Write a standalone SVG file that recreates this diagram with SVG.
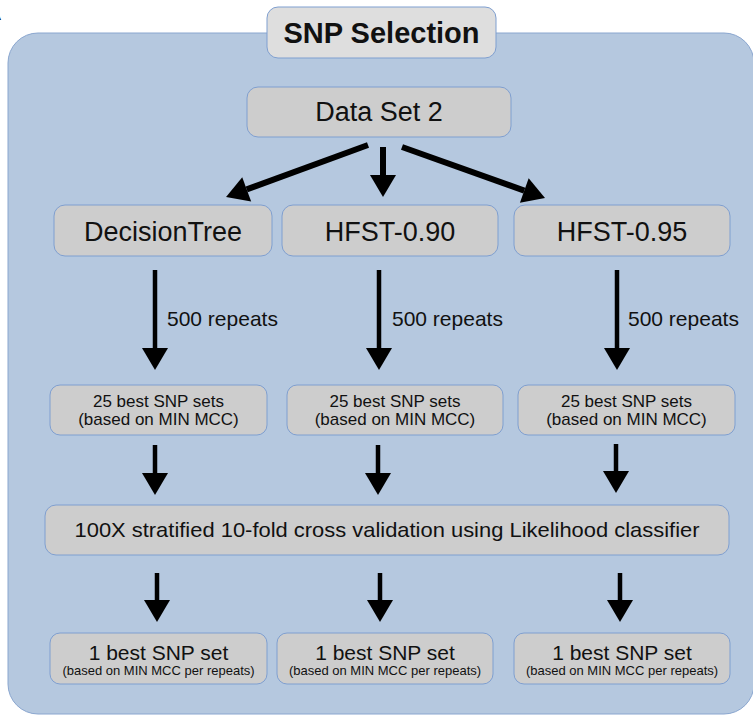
<svg xmlns="http://www.w3.org/2000/svg" width="753" height="715" viewBox="0 0 753 715">
<defs>
<style>
.panel{fill:#b5c8df;stroke:#8aa6cf;stroke-width:1}
.box{fill:#cdcdcd;stroke:#7f9fd0;stroke-width:1}
.tbox{fill:#dedede;stroke:#7f9fd0;stroke-width:1}
text{font-family:"Liberation Sans",Arial,sans-serif;fill:#111;text-anchor:middle}
.title{font-size:29px;font-weight:bold}
.big{font-size:27px}
.rep{font-size:21px;text-anchor:start}
.mid{font-size:17px}
.wide{font-size:21px}
.one{font-size:21px}
.small{font-size:13px}
.conn line{stroke:#000;fill:none}
.thick{stroke-width:6}
.thin{stroke-width:4.5}
</style>
<marker id="ah" markerUnits="userSpaceOnUse" markerWidth="22" markerHeight="26" refX="0" refY="13" orient="auto" overflow="visible">
<path d="M0,0 L22,13 L0,26 Z" fill="#000"/>
</marker>
</defs>
<text x="-9" y="20" style="font-size:15px;text-anchor:start">A</text>
<rect class="panel" x="8" y="33" width="746" height="681" rx="30" ry="30"/>
<g id="title">
<rect class="tbox" x="267" y="7" width="229" height="51" rx="11"/>
<text class="title" x="381.5" y="43">SNP Selection</text>
</g>
<g id="dataset2">
<rect class="box" x="247" y="87" width="264" height="50" rx="11"/>
<text class="big" x="379" y="121">Data Set 2</text>
</g>
<g id="decisiontree">
<rect class="box" x="54" y="205" width="218" height="51" rx="11"/>
<text class="big" x="163" y="241">DecisionTree</text>
</g>
<g id="hfst090">
<rect class="box" x="282" y="205" width="216" height="51" rx="11"/>
<text class="big" x="390" y="241">HFST-0.90</text>
</g>
<g id="hfst095">
<rect class="box" x="514" y="205" width="216" height="51" rx="11"/>
<text class="big" x="622" y="241">HFST-0.95</text>
</g>
<g id="best25a">
<rect class="box" x="50" y="385" width="217" height="50" rx="10"/>
<text class="mid" x="158.5" y="407">25 best SNP sets</text>
<text class="mid" x="158.5" y="425">(based on MIN MCC)</text>
</g>
<g id="best25b">
<rect class="box" x="287" y="385" width="216" height="50" rx="10"/>
<text class="mid" x="395" y="407">25 best SNP sets</text>
<text class="mid" x="395" y="425">(based on MIN MCC)</text>
</g>
<g id="best25c">
<rect class="box" x="518" y="385" width="217" height="50" rx="10"/>
<text class="mid" x="626.5" y="407">25 best SNP sets</text>
<text class="mid" x="626.5" y="425">(based on MIN MCC)</text>
</g>
<g id="crossval">
<rect class="box" x="45" y="505" width="684" height="50" rx="11"/>
<text class="wide" x="387" y="537" textLength="625" lengthAdjust="spacingAndGlyphs">100X stratified 10-fold cross validation using Likelihood classifier</text>
</g>
<g id="best1a">
<rect class="box" x="50" y="633" width="217" height="51" rx="10"/>
<text class="one" x="158.5" y="660">1 best SNP set</text>
<text class="small" x="158.5" y="675">(based on MIN MCC per repeats)</text>
</g>
<g id="best1b">
<rect class="box" x="277" y="633" width="216" height="51" rx="10"/>
<text class="one" x="385" y="660">1 best SNP set</text>
<text class="small" x="385" y="675">(based on MIN MCC per repeats)</text>
</g>
<g id="best1c">
<rect class="box" x="514" y="633" width="216" height="51" rx="10"/>
<text class="one" x="622" y="660">1 best SNP set</text>
<text class="small" x="622" y="675">(based on MIN MCC per repeats)</text>
</g>
<g id="connectors" class="conn">
<line class="thick" x1="368" y1="145" x2="246.7" y2="189.4" marker-end="url(#ah)"/>
<line class="thick" x1="383" y1="147" x2="383" y2="175" marker-end="url(#ah)"/>
<line class="thick" x1="402" y1="147" x2="524.3" y2="190.6" marker-end="url(#ah)"/>
<line class="thin" x1="155" y1="270" x2="155" y2="348" marker-end="url(#ah)"/>
<line class="thin" x1="379" y1="270" x2="379" y2="348" marker-end="url(#ah)"/>
<line class="thin" x1="617" y1="270" x2="617" y2="348" marker-end="url(#ah)"/>
<line class="thin" x1="155" y1="445" x2="155" y2="473" marker-end="url(#ah)"/>
<line class="thin" x1="378" y1="445" x2="378" y2="473" marker-end="url(#ah)"/>
<line class="thin" x1="616" y1="444" x2="616" y2="471" marker-end="url(#ah)"/>
<line class="thin" x1="157" y1="573" x2="157" y2="600" marker-end="url(#ah)"/>
<line class="thin" x1="380" y1="573" x2="380" y2="600" marker-end="url(#ah)"/>
<line class="thin" x1="620" y1="573" x2="620" y2="600" marker-end="url(#ah)"/>
</g>
<g id="labels">
<text class="rep" x="167" y="326">500 repeats</text>
<text class="rep" x="392" y="326">500 repeats</text>
<text class="rep" x="628" y="326">500 repeats</text>
</g>
</svg>
